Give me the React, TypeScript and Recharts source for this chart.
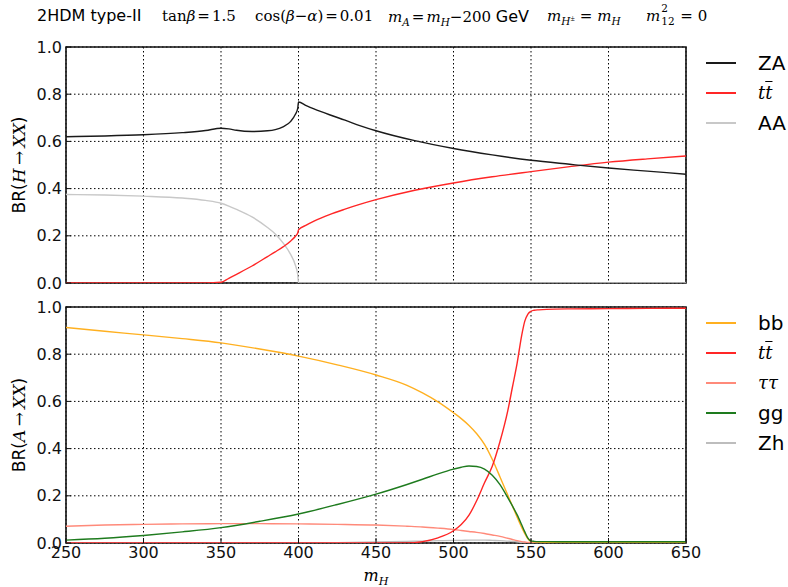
import React from 'react';
import { LineChart, Line, XAxis, YAxis, CartesianGrid, ReferenceArea } from 'recharts';

// ---- top panel: H -> XX ----
const mHTop = [250, 275, 300, 325, 340, 350, 355, 360, 370, 380, 385, 390, 395, 398, 399.5, 400, 405, 410, 420, 430, 440, 450, 475, 500, 525, 550, 575, 600, 625, 650];
const brZA = [0.620, 0.623, 0.628, 0.637, 0.646, 0.656, 0.653, 0.647, 0.642, 0.645, 0.650, 0.662, 0.685, 0.715, 0.740, 0.767, 0.752, 0.738, 0.713, 0.690, 0.666, 0.645, 0.603, 0.570, 0.543, 0.520, 0.503, 0.487, 0.474, 0.461];
const brTtH = [0, 0, 0, 0, 0, 0.003, 0.02, 0.037, 0.072, 0.112, 0.132, 0.153, 0.178, 0.198, 0.212, 0.225, 0.245, 0.262, 0.29, 0.313, 0.334, 0.353, 0.393, 0.424, 0.45, 0.472, 0.493, 0.512, 0.526, 0.538];
const brAA = [0.375, 0.373, 0.368, 0.360, 0.350, 0.338, 0.326, 0.312, 0.280, 0.235, 0.208, 0.170, 0.120, 0.075, 0.035, 0, 0, 0, 0, 0, 0, 0, 0, 0, 0, 0, 0, 0, 0, 0];

// ---- bottom panel: A -> XX ----
const mHBot = [250, 275, 300, 325, 350, 375, 400, 425, 450, 470, 480, 490, 500, 505, 510, 515, 520, 525, 530, 535, 538, 541, 544, 546, 548, 550, 552, 555, 560, 575, 600, 625, 650];
const brBB = [0.913, 0.897, 0.882, 0.866, 0.848, 0.822, 0.792, 0.755, 0.712, 0.668, 0.636, 0.598, 0.552, 0.527, 0.498, 0.463, 0.418, 0.355, 0.280, 0.203, 0.157, 0.110, 0.066, 0.040, 0.018, 0.007, 0.005, 0.004, 0.003, 0.003, 0.002, 0.002, 0.002];
const brTtA = [0, 0, 0, 0, 0, 0, 0, 0, 0, 0, 0.006, 0.022, 0.052, 0.078, 0.118, 0.18, 0.255, 0.325, 0.43, 0.56, 0.66, 0.76, 0.88, 0.94, 0.97, 0.982, 0.986, 0.988, 0.99, 0.992, 0.993, 0.994, 0.995];
const brTauTau = [0.071, 0.076, 0.079, 0.081, 0.082, 0.082, 0.081, 0.079, 0.076, 0.071, 0.068, 0.063, 0.057, 0.053, 0.049, 0.045, 0.040, 0.034, 0.028, 0.020, 0.015, 0.010, 0.006, 0.004, 0.002, 0.001, 0.0005, 0.0004, 0.0004, 0.0003, 0.0003, 0.0003, 0.0003];
const brGG = [0.012, 0.020, 0.032, 0.047, 0.065, 0.092, 0.123, 0.163, 0.207, 0.248, 0.270, 0.293, 0.313, 0.321, 0.326, 0.324, 0.313, 0.287, 0.247, 0.192, 0.157, 0.120, 0.077, 0.047, 0.021, 0.009, 0.007, 0.006, 0.006, 0.005, 0.005, 0.005, 0.005];
const brZh = [0, 0, 0, 0, 0, 0, 0, 0.001, 0.004, 0.007, 0.008, 0.010, 0.011, 0.011, 0.012, 0.012, 0.012, 0.011, 0.010, 0.008, 0.007, 0.005, 0.003, 0.002, 0.001, 0.0005, 0, 0, 0, 0, 0, 0, 0];

const xTicks = [250, 300, 350, 400, 450, 500, 550, 600, 650];
const yTicks = [0, 0.2, 0.4, 0.6, 0.8, 1.0];

const topData = mHTop.map((m, i) => ({ m, ZA: brZA[i], tt: brTtH[i], AA: brAA[i] }));
const botData = mHBot.map((m, i) => ({ m, bb: brBB[i], tt: brTtA[i], tautau: brTauTau[i], gg: brGG[i], Zh: brZh[i] }));

const C = {
  ZA: '#1a1a1a',
  tt: '#ff2626',
  AA: '#c8c8c8',
  bb: '#ffb020',
  tautau: '#ff8a7a',
  gg: '#1e7b1e',
  Zh: '#bdbdbd',
};

const SANS = '"DejaVu Sans", sans-serif';
const SERIF = '"DejaVu Serif", serif';
const tickStyle = { fontSize: 16, fontFamily: SANS, fill: '#111' };
const tickLineStyle = { stroke: '#111', strokeWidth: 1 };

const M: React.FC<{ children: React.ReactNode }> = ({ children }) => (
  <span style={{ fontFamily: SERIF, fontStyle: 'italic' }}>{children}</span>
);
const R: React.FC<{ children: React.ReactNode }> = ({ children }) => (
  <span style={{ fontFamily: SERIF }}>{children}</span>
);
const Sub: React.FC<{ children: React.ReactNode }> = ({ children }) => (
  <sub style={{ fontSize: '0.7em', verticalAlign: '-0.35em', lineHeight: 0 }}>{children}</sub>
);
const Eq: React.FC<{ gap?: number }> = ({ gap = 2 }) => <span style={{ fontFamily: SERIF, margin: `0 ${gap}px` }}>=</span>;
const TTbar = () => (
  <span style={{ fontFamily: SERIF, fontStyle: 'italic', fontSize: 18 }}>
    t<span style={{ textDecoration: 'overline' }}>t</span>
  </span>
);

const abs = (left: number, top: number, extra: React.CSSProperties = {}): React.CSSProperties => ({
  position: 'absolute', left, top, whiteSpace: 'nowrap', lineHeight: 1, ...extra,
});

const Frame = () => (
  <ReferenceArea x1={250} x2={650} y1={0} y2={1} fill="none" stroke="#111" strokeWidth={1.6} ifOverflow="visible" />
);

const NoTick = () => <g />;

const LegendItem: React.FC<{ y: number; color: string; children: React.ReactNode }> = ({ y, color, children }) => (
  <>
    <div style={{ position: 'absolute', left: 706, top: y - 1, width: 30, height: 2, background: color }} />
    <div style={abs(758, y - 11, { fontSize: 20, fontFamily: SANS, color: '#000', height: 22, display: 'flex', alignItems: 'center' })}>{children}</div>
  </>
);

export default function App() {
  return (
    <div style={{ position: 'absolute', left: 0, top: 0, width: 788, height: 587, background: '#fff', overflow: 'hidden' }}>
      {/* title */}
      <div style={{ position: 'absolute', left: 0, top: 8, fontSize: 16, color: '#000' }}>
        <span style={abs(37, 0, { fontFamily: SANS })}>2HDM type-II</span>
        <span style={abs(162, 1, { fontSize: 15 })}><R>tan</R><M>β</M><Eq /><R>1.5</R></span>
        <span style={abs(255, 1, { fontSize: 15 })}><R>cos(</R><M>β</M><R>−</R><M>α</M><R>)</R><Eq /><R>0.01</R></span>
        <span style={abs(388, 1, { fontSize: 15 })}><M>m</M><Sub><M>A</M></Sub><Eq /><M>m</M><Sub><M>H</M></Sub><R>−200 </R><span style={{ fontFamily: SANS, fontSize: 16 }}>GeV</span></span>
        <span style={abs(547, 1, { fontSize: 15 })}><M>m</M><Sub><M>H</M><sup style={{ fontSize: '0.75em' }}>±</sup></Sub><Eq gap={5} /><M>m</M><Sub><M>H</M></Sub></span>
        <span style={abs(646, 1, { fontSize: 15 })}>
          <M>m</M>
          <span style={{ position: 'relative', display: 'inline-block', width: 15, height: 10, fontFamily: SERIF, fontSize: 10.5 }}>
            <span style={{ position: 'absolute', left: 1, top: -8 }}>2</span>
            <span style={{ position: 'absolute', left: 1, top: 5 }}>12</span>
          </span>
          <Eq gap={5} /><R>0</R>
        </span>
      </div>

      {/* top chart */}
      <div style={{ position: 'absolute', left: 0, top: 0 }}>
        <LineChart width={788} height={300} data={topData} margin={{ top: 47, right: 102, left: 0, bottom: 17 }}>
          <CartesianGrid stroke="#000" strokeDasharray="1.5 2.5" strokeWidth={1} />
          <XAxis dataKey="m" type="number" domain={[250, 650]} ticks={xTicks} interval={0} tick={NoTick} tickLine={tickLineStyle} tickSize={-5} axisLine={false} height={0} allowDataOverflow />
          <YAxis type="number" domain={[0, 1]} ticks={yTicks} interval={0} width={66} tick={tickStyle} tickFormatter={(v: number) => v.toFixed(1)} tickLine={tickLineStyle} tickSize={-5} tickMargin={9} axisLine={false} allowDataOverflow />
          <Line dataKey="AA" stroke={C.AA} strokeWidth={1.4} dot={false} type="monotone" isAnimationActive={false} />
          <Line dataKey="tt" stroke={C.tt} strokeWidth={1.4} dot={false} type="monotone" isAnimationActive={false} />
          <Line dataKey="ZA" stroke={C.ZA} strokeWidth={1.4} dot={false} type="monotone" isAnimationActive={false} />
          {Frame()}
        </LineChart>
      </div>

      {/* bottom chart */}
      <div style={{ position: 'absolute', left: 0, top: 290 }}>
        <LineChart width={788} height={297} data={botData} margin={{ top: 17, right: 102, left: 0, bottom: 0 }}>
          <CartesianGrid stroke="#000" strokeDasharray="1.5 2.5" strokeWidth={1} />
          <XAxis dataKey="m" type="number" domain={[250, 650]} ticks={xTicks} interval={0} height={44} tick={tickStyle} tickLine={tickLineStyle} tickSize={-5} tickMargin={9} axisLine={false} allowDataOverflow />
          <YAxis type="number" domain={[0, 1]} ticks={yTicks} interval={0} width={66} tick={tickStyle} tickFormatter={(v: number) => v.toFixed(1)} tickLine={tickLineStyle} tickSize={-5} tickMargin={9} axisLine={false} allowDataOverflow />
          <Line dataKey="Zh" stroke={C.Zh} strokeWidth={1.4} dot={false} type="monotone" isAnimationActive={false} />
          <Line dataKey="tautau" stroke={C.tautau} strokeWidth={1.4} dot={false} type="monotone" isAnimationActive={false} />
          <Line dataKey="bb" stroke={C.bb} strokeWidth={1.4} dot={false} type="monotone" isAnimationActive={false} />
          <Line dataKey="tt" stroke={C.tt} strokeWidth={1.4} dot={false} type="monotone" isAnimationActive={false} />
          <Line dataKey="gg" stroke={C.gg} strokeWidth={1.4} dot={false} type="monotone" isAnimationActive={false} />
          {Frame()}
        </LineChart>
      </div>

      {/* y labels */}
      <div style={{ position: 'absolute', left: 19, top: 165, transform: 'translate(-50%, -50%) rotate(-90deg)', whiteSpace: 'nowrap', fontSize: 17, fontFamily: SANS, lineHeight: 1 }}>
        BR(<M>H</M><R>&#8239;→&#8239;</R><M>XX</M>)
      </div>
      <div style={{ position: 'absolute', left: 19, top: 425, transform: 'translate(-50%, -50%) rotate(-90deg)', whiteSpace: 'nowrap', fontSize: 17, fontFamily: SANS, lineHeight: 1 }}>
        BR(<M>A</M><R>&#8239;→&#8239;</R><M>XX</M>)
      </div>

      {/* x label */}
      <div style={{ position: 'absolute', left: 376, top: 576, transform: 'translate(-50%, -50%)', whiteSpace: 'nowrap', fontSize: 16, lineHeight: 1 }}>
        <M>m</M><Sub><M>H</M></Sub>
      </div>

      {/* legends */}
      <LegendItem y={63} color={C.ZA}>ZA</LegendItem>
      <LegendItem y={93} color={C.tt}><TTbar /></LegendItem>
      <LegendItem y={123} color={C.AA}>AA</LegendItem>

      <LegendItem y={323} color={C.bb}>bb</LegendItem>
      <LegendItem y={353} color={C.tt}><TTbar /></LegendItem>
      <LegendItem y={383} color={C.tautau}><span style={{ fontFamily: SERIF, fontStyle: 'italic', fontSize: 18 }}>ττ</span></LegendItem>
      <LegendItem y={413} color={C.gg}>gg</LegendItem>
      <LegendItem y={443} color={C.Zh}>Zh</LegendItem>
    </div>
  );
}
